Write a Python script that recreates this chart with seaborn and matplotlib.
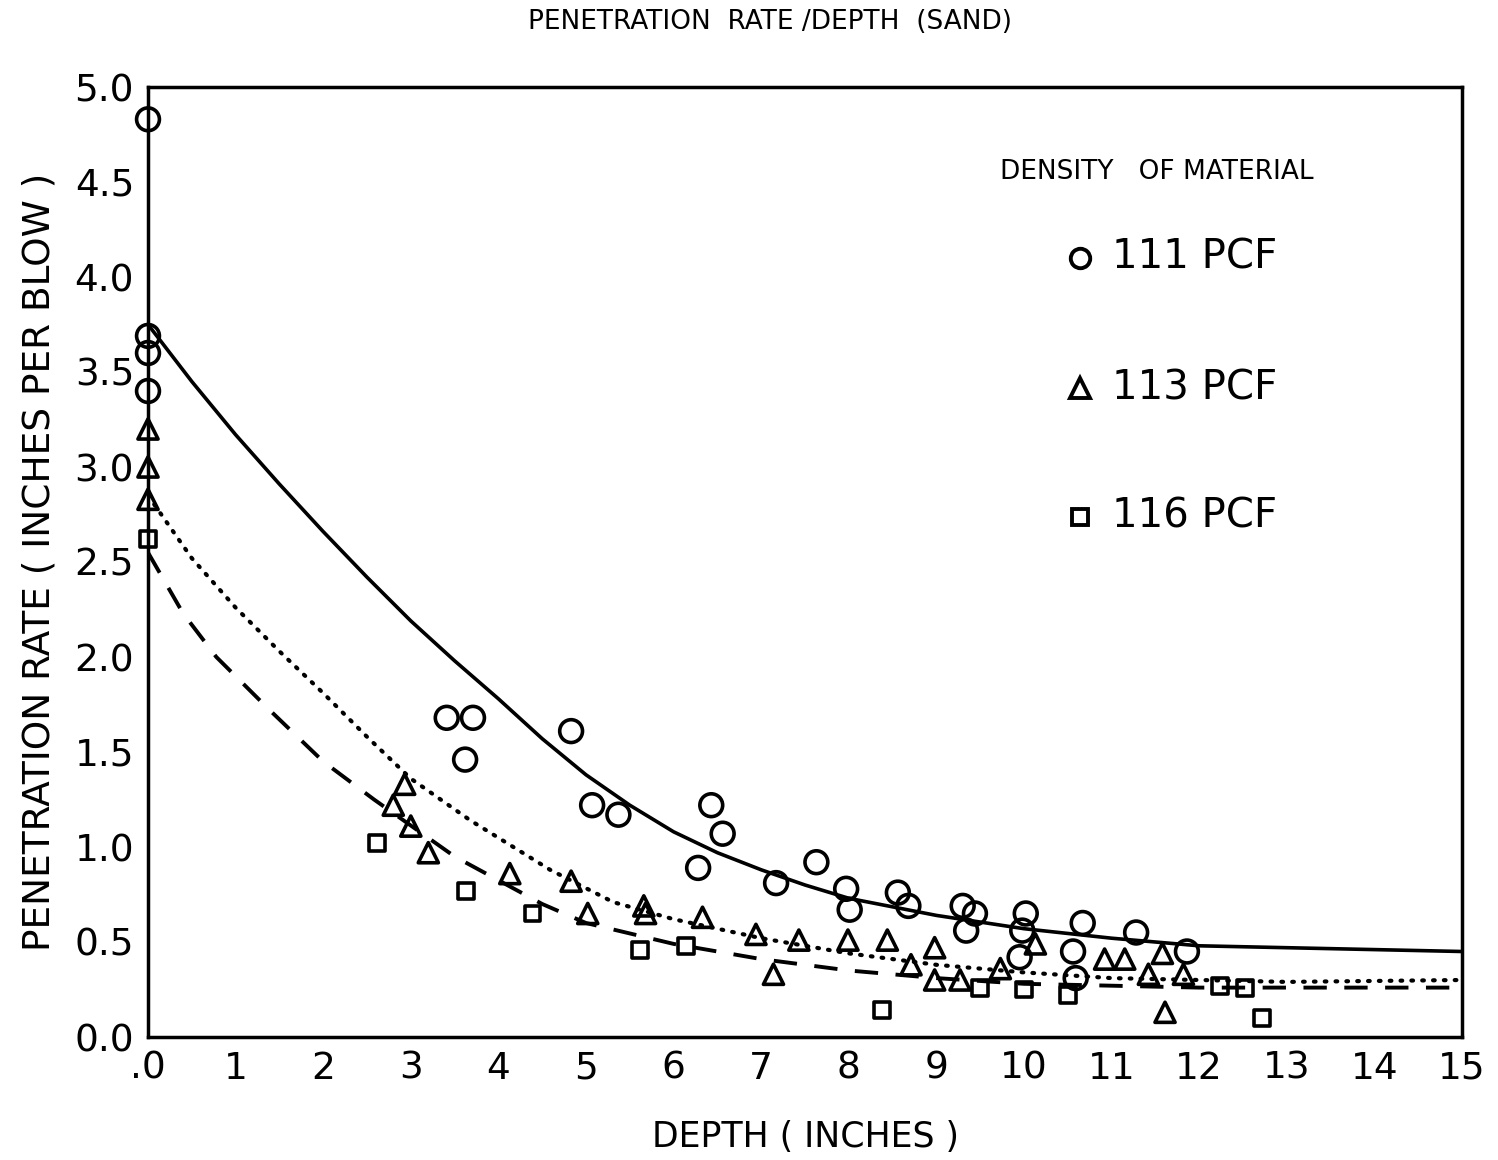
import matplotlib
matplotlib.use("Agg")
import matplotlib.pyplot as plt
import seaborn as sns
import pandas as pd

# ---- data ----
c111_x = [0.0, 0.0, 0.0, 0.0, 3.41, 3.71, 3.62, 4.83, 5.07, 5.37, 6.28, 6.43, 6.56,
          7.17, 7.63, 7.97, 8.01, 8.56, 8.68, 9.30, 9.34, 9.44, 10.02, 9.98, 9.95,
          10.56, 10.59, 10.67, 11.28, 11.86]
c111_y = [4.83, 3.69, 3.60, 3.40, 1.68, 1.68, 1.46, 1.61, 1.22, 1.17, 0.89, 1.22, 1.07,
          0.81, 0.92, 0.78, 0.67, 0.76, 0.69, 0.69, 0.56, 0.65, 0.65, 0.56, 0.42,
          0.45, 0.31, 0.60, 0.55, 0.45]

t113_x = [0.0, 0.0, 0.0, 2.80, 2.93, 3.00, 3.20, 4.13, 4.83, 5.02, 5.66, 5.68, 6.33,
          6.94, 7.14, 7.43, 7.99, 8.44, 8.98, 8.71, 8.98, 9.27, 9.73, 10.13, 10.92,
          11.15, 11.58, 11.42, 11.61, 11.82]
t113_y = [3.20, 3.00, 2.83, 1.22, 1.33, 1.11, 0.97, 0.86, 0.82, 0.65, 0.69, 0.65, 0.63,
          0.54, 0.33, 0.51, 0.51, 0.51, 0.47, 0.38, 0.30, 0.30, 0.36, 0.49, 0.41,
          0.41, 0.44, 0.33, 0.13, 0.33]

s116_x = [0.0, 2.61, 3.63, 4.39, 5.62, 6.14, 8.38, 9.50, 10.00, 10.50, 12.24, 12.52, 12.72]
s116_y = [2.62, 1.02, 0.77, 0.65, 0.46, 0.48, 0.14, 0.26, 0.25, 0.22, 0.27, 0.26, 0.10]

# fitted curves
f111_x = [0.0, 0.5, 1.0, 1.5, 2.0, 2.5, 3.0, 3.5, 4.0, 4.5, 5.0, 5.5, 6.0, 6.5, 7.0,
          7.5, 8.0, 9.0, 10.0, 11.0, 12.0, 13.0, 14.0, 15.0]
f111_y = [3.75, 3.45, 3.17, 2.91, 2.66, 2.42, 2.19, 1.98, 1.78, 1.57, 1.38, 1.22, 1.08,
          0.97, 0.88, 0.80, 0.73, 0.64, 0.57, 0.52, 0.48, 0.47, 0.46, 0.45]

f113_x = [0.0, 0.5, 1.0, 1.5, 2.0, 2.5, 3.0, 3.68, 4.59, 5.31, 6.0, 7.0, 8.0, 9.0,
          10.0, 11.0, 12.0, 13.0, 15.0]
f113_y = [2.85, 2.52, 2.26, 2.03, 1.81, 1.58, 1.36, 1.14, 0.88, 0.71, 0.62, 0.52, 0.44,
          0.38, 0.34, 0.31, 0.30, 0.29, 0.30]

f116_x = [0.0, 0.4, 0.78, 1.39, 2.0, 2.58, 3.5, 4.5, 5.0, 6.0, 7.0, 8.0, 9.0, 10.0,
          12.0, 13.0, 15.0]
f116_y = [2.55, 2.23, 2.00, 1.72, 1.45, 1.25, 0.95, 0.70, 0.60, 0.49, 0.41, 0.35, 0.31,
          0.28, 0.26, 0.26, 0.26]

x_ticks = list(range(0, 16))
x_ticklabels = ['.0'] + [str(i) for i in range(1, 16)]
y_ticks = [0.0, 0.5, 1.0, 1.5, 2.0, 2.5, 3.0, 3.5, 4.0, 4.5, 5.0]
y_ticklabels = ['%.1f' % v for v in y_ticks]

legend_labels = ['111 PCF', '113 PCF', '116 PCF']

# ---- drawing ----
sns.set_theme(style="white")
plt.rcParams['font.family'] = ['DejaVu Sans']

fig = plt.figure(figsize=(14.98, 11.6), dpi=100)
ax = fig.add_axes([148/1498, 123/1160, 1314/1498, 950/1160])

pts = pd.concat([
    pd.DataFrame({'x': c111_x, 'y': c111_y, 'g': legend_labels[0]}),
    pd.DataFrame({'x': t113_x, 'y': t113_y, 'g': legend_labels[1]}),
    pd.DataFrame({'x': s116_x, 'y': s116_y, 'g': legend_labels[2]}),
])

sns.lineplot(x=f111_x, y=f111_y, ax=ax, color='black', lw=2.6, linestyle='-')
line113 = sns.lineplot(x=f113_x, y=f113_y, ax=ax, color='black', lw=3.0,
                       linestyle=(0, (0.4, 2.2))).lines[-1]
line113.set_dash_capstyle('round')
sns.lineplot(x=f116_x, y=f116_y, ax=ax, color='black', lw=2.8, linestyle=(0, (6, 4.5)))

for g, m, s in zip(legend_labels, ['o', '^', 's'], [270, 210, 130]):
    d = pts[pts.g == g]
    sns.scatterplot(data=d, x='x', y='y', ax=ax, marker=m, s=s,
                    facecolor='none', edgecolor='black', linewidth=2.6, zorder=3,
                    clip_on=False, legend=False)

ax.set_xlim(0, 15)
ax.set_ylim(0, 5)
ax.set_xticks(x_ticks)
ax.set_xticklabels(x_ticklabels)
ax.set_yticks(y_ticks)
ax.set_yticklabels(y_ticklabels)
ax.tick_params(direction='in', length=10, width=2, labelsize=27, pad=10, colors='black')
for sp in ax.spines.values():
    sp.set_linewidth(2.5)
    sp.set_color('black')
ax.set_xlabel('DEPTH ( INCHES )', fontsize=25, labelpad=24, color='black')
ax.set_ylabel('PENETRATION RATE ( INCHES PER BLOW )', fontsize=27, labelpad=12, color='black')

fig.text(0.514, 0.981, 'PENETRATION  RATE /DEPTH  (SAND)', ha='center', va='center',
         fontsize=19, color='black')

# legend drawn as text block
fig.text(1157/1498, 1 - 172/1160, 'DENSITY   OF MATERIAL', ha='center', va='center',
         fontsize=19, color='black')
for lab, m, yp in zip(legend_labels, ['o', '^', 's'], [258, 388, 517]):
    ax.plot([1080/1498], [1 - yp/1160], marker=m, ms=14 if m != 's' else 11,
            mfc='none', mec='black', mew=2.8, transform=fig.transFigure, clip_on=False)
    fig.text(1112/1498, 1 - yp/1160, lab, ha='left', va='center', fontsize=29,
             color='black')

fig.savefig('out.png', dpi=100)
